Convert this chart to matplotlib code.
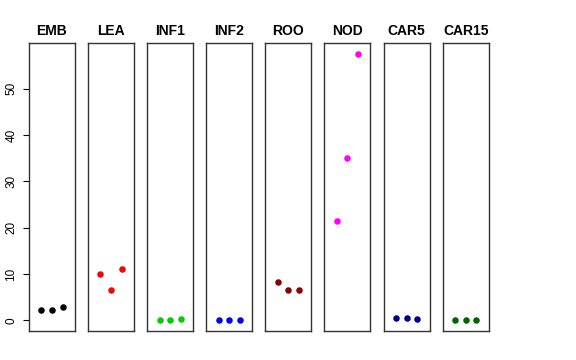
import matplotlib
matplotlib.use('Agg')
import matplotlib.pyplot as plt

plt.rcParams['font.family'] = ['Liberation Sans', 'DejaVu Sans']

tissues = ['EMB', 'LEA', 'INF1', 'INF2', 'ROO', 'NOD', 'CAR5', 'CAR15']
colours = ['black', 'red', '#00CD00', 'blue', '#8B0000', 'magenta', '#00008B', '#006400']

# three replicates per tissue
emb = [2.2, 2.2, 2.8]
lea = [10.0, 6.5, 11.1]
inf1 = [0.15, 0.15, 0.25]
inf2 = [0.05, 0.05, 0.05]
roo = [8.2, 6.5, 6.6]
nod = [21.4, 35.0, 57.6]
car5 = [0.43, 0.43, 0.3]
car15 = [0.15, 0.15, 0.15]
values = [emb, lea, inf1, inf2, roo, nod, car5, car15]

reps = [1, 2, 3]

fig = plt.figure(figsize=(5.76, 3.6), dpi=100)

left = 29 / 576.
width = 46 / 576.
step = 59.1 / 576.
bottom = 1 - 331 / 360.
height = (331 - 43) / 360.

for ii, (name, col, vals) in enumerate(zip(tissues, colours, values)):
    ax = fig.add_axes([left + ii * step, bottom, width, height])
    ax.scatter(reps, vals, s=22, color=col, zorder=3, linewidths=0)
    ax.set_xlim(-0.16, 4.16)
    ax.set_ylim(-2.3, 59.9)
    ax.set_xticks([])
    ax.set_title(name, fontsize=10, fontweight='bold', pad=6)
    for sp in ax.spines.values():
        sp.set_color('#333333')
        sp.set_linewidth(1.0)
    if ii == 0:
        ax.set_yticks([0, 10, 20, 30, 40, 50])
        ax.tick_params(axis='y', direction='out', length=4.5, width=0.8,
                       labelsize=8.5, pad=4)
        for lab in ax.get_yticklabels():
            lab.set_rotation(90)
            lab.set_va('center')
    else:
        ax.set_yticks([])

fig.savefig('out.png', dpi=100)
